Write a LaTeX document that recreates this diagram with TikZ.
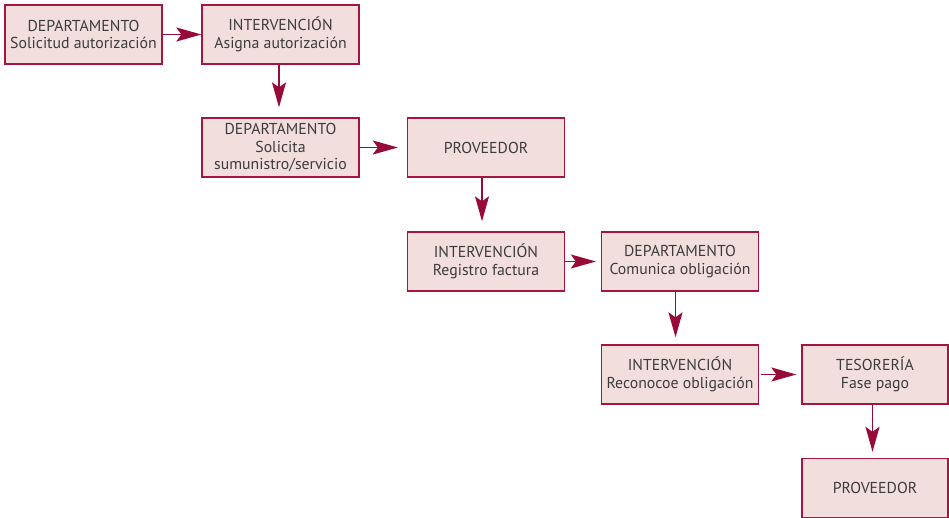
\documentclass[tikz,border=0pt]{standalone}
\usepackage{fontspec}
\setmainfont{PT Sans}
\usetikzlibrary{arrows.meta}
\definecolor{boxline}{HTML}{A3163F}
\definecolor{boxfill}{HTML}{F2DFDD}
\definecolor{arrowcol}{HTML}{980A38}
\definecolor{txt}{HTML}{3C3C3C}
\begin{document}
\begin{tikzpicture}[x=1pt,y=-1pt,
  flowbox/.style={draw=boxline,fill=boxfill,line width=1.3pt,minimum width=157pt,minimum height=59pt,
    inner sep=0pt,align=center,text=txt,font=\fontsize{15.8}{17.5}\selectfont},
  narrowbox/.style={flowbox,minimum width=146pt},
  flow/.style={draw=arrowcol,line width=1.8pt,-{Stealth[length=25pt,width=14pt,inset=5pt]}}]
\useasboundingbox (0,0) rectangle (949,518);
\node[flowbox] (a) at (83.5,34.5) {DEPARTAMENTO\\Solicitud autorización};
\node[flowbox] (b) at (280.5,34.5) {INTERVENCIÓN\\Asigna autorización};
\node[flowbox] (c) at (280.5,147.5) {DEPARTAMENTO\\Solicita\\sumunistro/servicio};
\node[flowbox] (d) at (486,147.5) {PROVEEDOR};
\node[flowbox] (e) at (486,261.5) {INTERVENCIÓN\\Registro factura};
\node[flowbox] (f) at (680,261.5) {DEPARTAMENTO\\Comunica obligación};
\node[flowbox] (g) at (680,374.5) {INTERVENCIÓN\\Reconocoe obligación};
\node[narrowbox] (h) at (875,374.5) {TESORERÍA\\Fase pago};
\node[narrowbox] (i) at (875,488) {PROVEEDOR};
\draw[flow] (a) -- (b);
\draw[flow,shorten >=9pt] (c) -- (d);
\draw[flow,shorten >=5pt] (e) -- (f);
\draw[flow,shorten >=5pt,shorten <=2pt] (g) -- (h);
\draw[flow,shorten >=10pt] ([xshift=-1.5pt]b.south) -- ([xshift=-1.5pt]c.north);
\draw[flow,shorten >=10pt] ([xshift=-4pt]d.south) -- ([xshift=-4pt]e.north);
\draw[flow,shorten >=7pt] ([xshift=-4.5pt]f.south) -- ([xshift=-4.5pt]g.north);
\draw[flow,shorten >=6pt] ([xshift=-2.5pt]h.south) -- ([xshift=-2.5pt]i.north);
\end{tikzpicture}
\end{document}
